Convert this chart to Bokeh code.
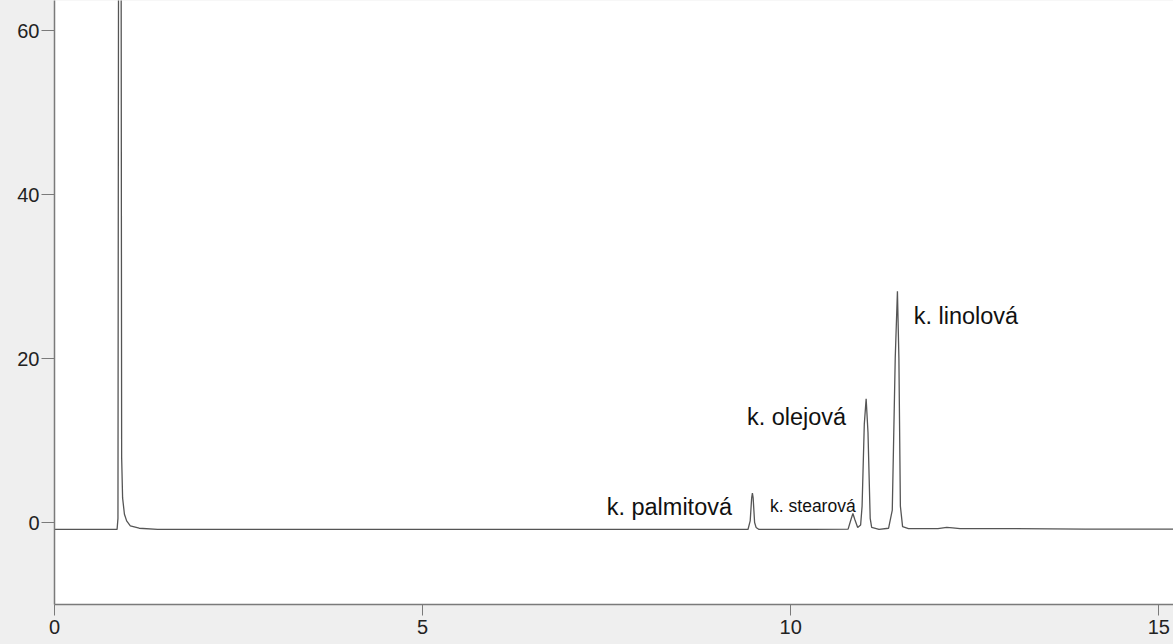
from bokeh.plotting import figure
from bokeh.models import ColumnDataSource, FixedTicker, Range1d
from bokeh.core.properties import value
from bokeh.embed import file_html
from bokeh.resources import INLINE

# Chromatogram trace (retention time [min], signal)
time = [0.00, 0.40, 0.85, 0.862, 0.870, 0.905, 0.912, 0.925, 0.95, 0.98, 1.03, 1.15, 1.40,
        3.00, 5.00, 7.00, 9.00, 9.42, 9.45, 9.47, 9.48, 9.49, 9.51, 9.53, 9.57,
        10.30, 10.78, 10.82, 10.845, 10.87, 10.91, 10.95, 10.97, 11.00, 11.025, 11.05, 11.08,
        11.10, 11.20, 11.33, 11.38, 11.42, 11.45, 11.47, 11.49, 11.52, 11.60, 12.00, 12.12,
        12.20, 12.30, 13.00, 14.00, 15.50]
signal = [-0.85, -0.85, -0.85, 0.5, 70.0, 70.0, 8.0, 3.0, 1.0, 0.2, -0.4, -0.7, -0.85,
          -0.85, -0.85, -0.85, -0.85, -0.85, 0.2, 3.0, 3.6, 3.0, 0.0, -0.6, -0.85,
          -0.85, -0.8, 0.4, 1.1, 0.4, -0.6, -0.3, 2.0, 12.0, 15.1, 11.0, 0.5,
          -0.6, -0.85, -0.7, 1.5, 20.0, 28.2, 20.0, 2.0, -0.5, -0.75, -0.75, -0.6,
          -0.65, -0.75, -0.75, -0.8, -0.8]

# Peak labels
label_text = ["k. palmitová", "k. stearová", "k. olejová", "k. linolová"]
label_x = [7.50, 9.72, 9.405, 11.67]
label_y = [1.87, 2.07, 12.84, 25.24]
label_size = ["23.5px", "17.5px", "23.5px", "23.5px"]

x_ticks = [0, 5, 10, 15]
y_ticks = [0, 20, 40, 60]

p = figure(width=1173, height=644, output_backend="svg", toolbar_location=None,
           x_range=Range1d(0, 15.2), y_range=Range1d(-10, 63.66),
           min_border_left=54, min_border_right=0, min_border_top=0, min_border_bottom=40)
p.background_fill_color = "white"
p.border_fill_color = "#efefef"
p.outline_line_color = None
p.grid.visible = False

p.line(time, signal, line_color="#555555", line_width=1.3)

src = ColumnDataSource(dict(x=label_x, y=label_y, t=label_text, s=label_size))
p.text(x="x", y="y", text="t", text_font_size="s", source=src,
       text_font=value("Liberation Sans"), text_color="#111111",
       text_baseline="alphabetic", text_align="left")

for ax, ticks, tout, standoff in ((p.xaxis, x_ticks, 11, 4), (p.yaxis, y_ticks, 13, 2)):
    ax.ticker = FixedTicker(ticks=ticks)
    ax.axis_line_color = "#7a7a7a"
    ax.axis_line_width = 1.5
    ax.major_tick_line_color = "#7a7a7a"
    ax.major_tick_line_width = 1
    ax.major_tick_out = tout
    ax.major_tick_in = 0
    ax.minor_tick_line_color = None
    ax.major_label_text_font = "Liberation Sans"
    ax.major_label_text_font_size = "20px"
    ax.major_label_text_color = "#222222"
    ax.major_label_standoff = standoff

html = file_html(p, INLINE)
html = html.replace("<head>", "<head><style>body{background:#efefef;}</style>", 1)
open("out.html", "w").write(html)
